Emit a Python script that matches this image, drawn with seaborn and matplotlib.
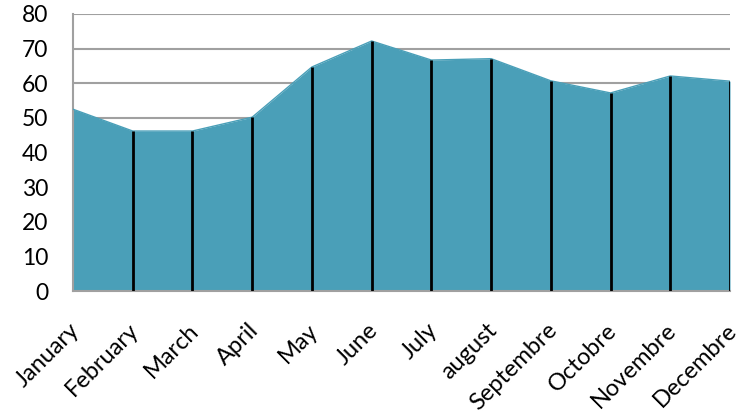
import matplotlib
matplotlib.use("Agg")
import matplotlib.pyplot as plt
import matplotlib.transforms as mtransforms
import seaborn as sns
import pandas as pd

months = ["January", "February", "March", "April", "May", "June", "July",
          "august", "Septembre", "Octobre", "Novembre", "Decembre"]
values = [52.5, 46.2, 46.2, 50.2, 64.7, 72.2, 66.7, 67.1, 60.7, 57.2, 62.1, 60.6]
yticks = [0, 10, 20, 30, 40, 50, 60, 70, 80]

sns.set_theme(style="white")
plt.rcParams["font.family"] = ["Lato", "DejaVu Sans"]

df = pd.DataFrame({"month": months, "value": values, "pos": range(len(months))})

fig = plt.figure(figsize=(7.4, 4.2), dpi=100)
ax = fig.add_axes([73 / 740, 1 - 291 / 420, (730 - 73) / 740, (291 - 14) / 420])

fill = "#4A9FB8"
ax.fill_between(df["pos"], 0, df["value"], color=fill, linewidth=0, zorder=2)
sns.lineplot(data=df, x="pos", y="value", ax=ax, color=fill, linewidth=1, zorder=3)
ax.vlines(df["pos"][1:], 0, df["value"][1:], color="black", linewidth=2, zorder=4)

ax.set_xlim(0, len(months) - 1)
ax.set_ylim(0, 80)
ax.set_yticks(yticks)
ax.set_xticks(df["pos"])
ax.set_xticklabels([])

# rotated month labels, right end placed just below each category position
trans = mtransforms.blended_transform_factory(ax.transData, ax.transAxes)
offset = mtransforms.ScaledTranslation(3 / 100, -36 / 100, fig.dpi_scale_trans)
for p, m in zip(df["pos"], df["month"]):
    ax.text(p, 0, m, transform=trans + offset, rotation=45, ha="right",
            va="center", rotation_mode="anchor", fontsize=17, color="black",
            clip_on=False)

ax.tick_params(axis="y", labelsize=16.5, labelcolor="black", pad=18, length=0)
ax.tick_params(axis="x", length=0, pad=0)
ax.set_xlabel("")
ax.set_ylabel("")

ax.grid(axis="y", color="#A0A0A0", linewidth=1.5, zorder=0)
ax.set_axisbelow(True)
for s in ["top", "right"]:
    ax.spines[s].set_visible(False)
for s in ["left", "bottom"]:
    ax.spines[s].set_color("#A0A0A0")
    ax.spines[s].set_linewidth(1.5)

fig.savefig("out.png", dpi=100)
